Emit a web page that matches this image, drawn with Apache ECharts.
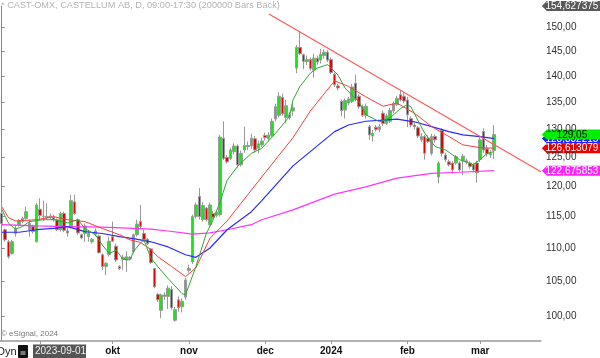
<!DOCTYPE html>
<html><head><meta charset="utf-8">
<script src="https://cdn.jsdelivr.net/npm/echarts/dist/echarts.min.js"></script>
<style>html,body{margin:0;padding:0;background:#fff}#chart{width:600px;height:358px}</style>
</head><body><div id="chart"></div>
<script>
// ---- DATA ----
const firstDate = [2023, 7, 17];
const nCategories = 156;
const holidays = ['2023-12-25', '2023-12-26', '2024-01-01'];
const monthNames = ['2024','feb','mar','apr','maj','jun','jul','aug','sep','okt','nov','dec'];
const startLabel = '2023-09-01';

const open = [115.5,112.9,111.0,109.2,112.3,113.7,114.2,114.7,112.9,113.4,
111.0,116.2,115.0,115.0,114.9,114.9,114.5,112.9,115.5,112.7,
113.3,117.4,114.5,112.1,112.3,111.8,111.0,112.2,111.9,109.0,
107.2,109.0,111.8,110.3,107.2,108.3,108.2,108.6,109.5,112.1,
114.2,112.3,111.4,109.9,106.9,103.1,100.8,103.0,102.8,103.8,
99.4,102.3,101.3,102.7,106.6,107.9,115.0,118.3,114.5,116.4,
113.7,115.5,115.2,115.3,128.4,125.0,124.8,126.0,127.0,123.7,
126.3,127.1,127.0,128.3,126.6,127.2,128.9,128.3,128.9,131.9,
132.6,136.0,132.2,132.7,133.4,141.7,145.9,144.4,143.0,143.4,
141.3,143.7,143.3,144.2,144.9,143.4,140.5,138.2,135.2,133.6,
134.9,135.2,138.7,136.2,134.2,132.6,130.5,128.8,130.4,130.0,
133.0,131.1,131.5,133.4,134.6,136.5,136.2,135.5,132.0,130.8,
130.3,128.1,128.7,128.4,125.7,128.7,121.6,129.8,125.4,124.2,
124.0,124.0,124.0,124.4,124.4,124.0,123.7,124.0,124.6,129.6,
126.5,125.4,126.2];
const close = [113.9,111.3,108.7,111.0,113.1,114.3,114.7,115.8,113.9,112.6,
116.9,115.2,115.1,114.8,115.1,114.5,112.9,115.5,112.8,112.4,
117.6,115.5,112.4,111.6,113.5,112.3,111.4,112.7,109.3,107.2,
107.7,111.1,111.1,108.2,106.9,108.6,108.7,108.4,112.1,113.8,
113.4,111.3,110.7,107.8,104.2,102.3,103.0,102.8,104.0,101.2,
100.9,101.2,102.1,105.2,106.9,115.0,116.9,115.0,116.8,114.5,
116.9,114.9,115.7,128.6,124.8,124.2,126.3,127.0,123.7,125.7,
127.1,126.9,128.4,126.3,127.4,127.9,128.5,129.0,131.5,134.2,
136.2,132.9,134.4,132.2,134.0,145.9,144.6,143.0,143.4,141.6,
143.7,142.9,144.5,144.9,143.3,140.8,138.4,137.8,133.5,135.4,
135.7,138.0,135.5,134.2,132.6,134.3,129.0,129.3,130.0,130.5,
131.1,132.5,133.5,134.8,135.8,135.5,135.3,132.7,130.8,130.5,
128.8,128.7,125.7,127.8,128.7,128.1,124.0,125.7,124.6,123.7,
122.8,125.1,122.8,125.2,124.2,123.4,122.8,122.3,128.1,126.3,
125.6,125.7,129.05];
const low = [113.7,111.0,108.4,109.0,111.8,113.4,113.9,114.5,111.8,112.3,
110.9,114.5,114.3,114.5,114.5,114.2,112.7,112.6,112.5,111.8,
113.1,115.3,112.1,111.4,111.0,111.0,110.7,111.9,109.2,106.7,
105.9,108.7,111.0,107.9,106.7,106.7,106.4,108.2,109.2,111.8,
113.1,111.0,110.5,107.6,104.0,102.0,99.7,102.3,101.0,100.9,
99.2,100.6,100.5,102.3,106.3,107.6,114.7,114.5,114.2,114.2,
113.5,114.5,114.9,115.0,124.5,123.9,124.5,125.5,123.2,123.4,
125.8,126.3,126.5,125.8,125.7,126.8,128.0,127.8,128.6,131.5,
132.2,132.5,131.2,131.8,132.5,140.7,144.3,141.5,142.3,141.2,
139.8,142.4,142.6,143.6,142.9,140.5,138.0,137.3,132.4,132.0,
134.5,134.9,135.2,133.8,132.3,132.0,128.1,127.8,129.6,129.5,
130.6,130.8,131.2,133.0,134.3,135.2,134.9,130.4,130.4,130.0,
128.4,127.7,124.6,127.5,125.3,127.6,120.5,125.1,124.2,123.4,
122.2,123.7,122.5,121.9,123.8,123.0,122.4,120.6,124.2,125.8,
125.1,124.9,124.7];
const high = [117.2,113.1,111.3,111.3,113.7,114.6,115.0,116.6,114.5,113.7,
117.2,118.0,117.6,117.2,115.5,115.3,114.7,115.8,115.8,113.1,
118.6,118.6,114.7,112.3,113.9,112.9,111.6,113.1,112.1,109.2,
107.9,111.8,114.2,110.7,107.4,109.0,109.5,108.8,112.3,114.5,
116.9,112.9,111.6,110.0,107.0,103.3,103.2,103.4,104.4,104.3,
101.3,102.8,102.5,105.5,107.5,115.3,117.3,119.7,117.4,116.6,
117.3,115.9,116.0,129.0,131.5,125.4,126.7,127.5,127.3,126.2,
130.5,127.8,129.2,128.8,128.0,128.5,129.4,129.5,132.0,134.8,
137.0,136.7,135.5,133.2,134.8,146.4,149.3,144.6,144.2,143.8,
144.6,144.2,145.6,145.5,145.3,143.8,140.8,138.6,135.6,135.8,
136.1,138.6,140.4,136.6,134.6,134.8,130.8,129.9,130.8,131.0,
133.5,132.9,134.0,135.2,136.3,137.4,136.8,136.1,132.4,131.2,
130.6,129.3,129.0,128.9,129.2,129.1,124.3,130.2,125.8,124.6,
124.3,125.4,124.3,125.6,124.8,124.3,124.0,124.4,128.6,130.2,
127.2,126.3,130.8];

// moving averages: [bar index, value]
const maFast = [[0,116.2],[2,113.9],[4,113.0],[6,113.4],[8,114.2],[12,114.5],[15,114.5],[19,114.0],[22,114.5],[24,113.1],[27,112.1],[29,110.5],[31,109.2],[33,109.7],[35,108.3],[37,108.2],[38,109.5],[40,110.8],[41,111.3],[43,108.5],[45,107.2],[48,105.4],[52,103.2],[53,103.0],[56,107.2],[59,112.3],[61,114.5],[63,117.5],[65,121.0],[68,123.4],[72,125.7],[75,126.6],[79,129.3],[83,132.4],[84,135.5],[86,138.1],[89,140.7],[91,141.7],[94,142.4],[97,140.3],[99,137.8],[101,136.4],[103,135.2],[105,132.7],[109,131.4],[112,132.1],[115,133.9],[117,134.6],[118,134.2],[120,131.7],[122,129.3],[125,126.9],[128,126.3],[132,124.6],[136,123.7],[138,124.6],[140,125.7],[142,126.0]];
const maMid = [[0,116.6],[2,114.8],[4,114.3],[10,114.5],[15,115.0],[19,114.5],[24,114.2],[29,113.1],[34,112.1],[37,111.3],[40,110.9],[43,109.8],[45,108.7],[49,107.2],[53,105.7],[56,107.0],[60,111.5],[65,114.3],[75,121.6],[84,128.5],[89,133.4],[96,139.2],[100,138.1],[105,136.1],[110,134.3],[114,134.9],[119,133.0],[124,130.5],[129,128.7],[133,127.2],[138,126.7],[142,126.613079]];
const maSlow = [[0,112.5],[5,112.5],[10,112.9],[15,113.1],[19,113.4],[24,112.6],[29,112.3],[34,111.8],[38,111.5],[43,111.0],[48,110.2],[53,109.0],[56,108.6],[60,110.0],[65,112.9],[72,115.8],[75,117.6],[84,123.5],[96,129.6],[100,130.8],[105,131.5],[110,131.7],[114,131.9],[119,131.4],[124,130.5],[129,129.6],[133,129.0],[138,128.7],[142,128.332215]];
const ma200 = [[0,113.7],[10,113.5],[19,113.4],[29,113.3],[38,113.1],[43,113.0],[48,112.7],[55,112.2],[60,112.4],[65,112.9],[72,113.7],[75,114.5],[84,116.1],[96,118.7],[105,119.9],[114,121.4],[124,122.2],[132,122.4],[142,122.675853]];
const trendLine = [[77.07,152.9],[155.5,122.5]];

const yTicks = [100,105,110,115,120,125,130,135,140,145,150];
const yMin = 96.55, yMax = 154.627375;

// ---- BUILD ----
const dates = [];
let t = Date.UTC(firstDate[0], firstDate[1], firstDate[2]);
while (dates.length < nCategories) {
  const d = new Date(t);
  const s = d.toISOString().slice(0, 10);
  const wd = d.getUTCDay();
  if (wd !== 0 && wd !== 6 && holidays.indexOf(s) < 0) dates.push(s);
  t += 86400000;
}
const monthStart = {};
for (let i = 1; i < dates.length; i++) {
  if (dates[i].slice(5, 7) !== dates[i - 1].slice(5, 7)) monthStart[i] = +dates[i].slice(5, 7) - 1;
}
const fmt = (v, n) => v.toFixed(n).replace('.', ',');
const candles = open.map((o, i) => [o, close[i], low[i], high[i]]);
const lastClose = close[close.length - 1];
const last = (a) => a[a.length - 1][1];

const chart = echarts.init(document.getElementById('chart'));
const staticGraphics = [
  { type: 'text', left: 1, top: 1, style: { text: '* CAST-OMX, CASTELLUM AB, D, 09:00-17:30 (200000 Bars Back)', fontSize: 9.2, fill: '#b4b4b4', fontFamily: 'Liberation Sans' } },
  { type: 'text', left: 1, top: 330, style: { text: '© eSignal, 2024', fontSize: 8, fill: '#777', fontFamily: 'Liberation Sans' } },
  { type: 'text', left: -3, top: 346, style: { text: 'Dyn', fontSize: 11, fill: '#222', fontFamily: 'Liberation Sans' } },
  { type: 'rect', shape: { x: 18, y: 345, width: 10, height: 13, r: 1 }, style: { fill: '#111' } },
  { type: 'rect', shape: { x: 20.5, y: 351, width: 5, height: 4 }, style: { fill: '#777' } },
  { type: 'rect', shape: { x: 33, y: 344.5, width: 53, height: 13.5 }, style: { fill: '#555' } },
  { type: 'text', left: 35, top: 346.5, style: { text: startLabel, fontSize: 10, fill: '#eee', fontFamily: 'Liberation Sans' } }
];
chart.setOption({
  animation: false,
  textStyle: { fontFamily: 'Liberation Sans, Arial, sans-serif' },
  grid: { left: -1.94, right: 59.1, top: 6, bottom: 17 },
  xAxis: [{
    type: 'category', data: dates, boundaryGap: true,
    axisLine: { show: true, lineStyle: { color: '#999', width: 1.5 } },
    axisTick: { show: true, alignWithLabel: true, length: 3, lineStyle: { color: '#999' },
      interval: (i) => monthStart[i] !== undefined },
    axisLabel: { interval: (i) => monthStart[i] !== undefined && monthStart[i] !== 8,
      formatter: (v) => monthNames[+v.slice(5, 7) - 1],
      color: '#111', fontWeight: 'bold', fontSize: 10, margin: 5 },
    splitLine: { show: false }
  }, {
    type: 'value', min: -0.5, max: 155.5, show: false
  }],
  yAxis: {
    type: 'log', logBase: 10, position: 'right', min: yMin, max: yMax,
    axisLine: { show: true, lineStyle: { color: '#888' } },
    axisTick: { show: true, length: 3, customValues: yTicks, lineStyle: { color: '#888' } },
    axisLabel: { customValues: yTicks, formatter: (v) => fmt(v, 2), color: '#333', fontSize: 10, margin: 5 },
    splitLine: { show: false }
  },
  series: [
    { type: 'candlestick', data: candles, barWidth: 3,
      itemStyle: { color: '#19e619', color0: '#e60000', borderColor: '#9a9a9a', borderColor0: '#9a9a9a', borderWidth: 1 } },
    { type: 'line', data: ma200, showSymbol: false, lineStyle: { color: '#ff33ff', width: 1.2 }, itemStyle: { color: '#ff33ff' } },
    { type: 'line', data: maSlow, showSymbol: false, lineStyle: { color: '#2b2bff', width: 1.2 }, itemStyle: { color: '#2b2bff' } },
    { type: 'line', data: maMid, showSymbol: false, lineStyle: { color: '#ff3b3b', width: 1 }, itemStyle: { color: '#ff3b3b' } },
    { type: 'line', data: maFast, showSymbol: false, lineStyle: { color: '#2ea82e', width: 1 }, itemStyle: { color: '#2ea82e' } },
    { type: 'line', xAxisIndex: 1, data: trendLine, showSymbol: false, lineStyle: { color: '#ff5a5a', width: 1.2 }, itemStyle: { color: '#ff5a5a' } }
  ],
  graphic: staticGraphics
});

// value badges on the price axis, positioned through the chart's own y scale
const axisX = chart.convertToPixel({ xAxisIndex: 1 }, 155.5);
const badges = [
  [yMax, fmt(yMax, 6), '#5a5a5a', '#fff'],
  [last(ma200), fmt(last(ma200), 6), '#ff22ff', '#fff'],
  [last(maSlow), fmt(last(maSlow), 6), '#2020ff', '#fff'],
  [lastClose, fmt(lastClose, 2), '#00ee00', '#000'],
  [last(maMid), fmt(last(maMid), 6), '#ee0000', '#fff']
];
const badgeGraphics = badges.map((b) => {
  const y = chart.convertToPixel({ yAxisIndex: 0 }, b[0]);
  return { type: 'group', x: axisX + 1, y: y, children: [
    { type: 'polygon', shape: { points: [[0, 0], [5, -5], [64, -5], [64, 5], [5, 5]] }, style: { fill: b[2] } },
    { type: 'text', x: 30, y: 0.5, style: { text: b[1], fill: b[3], fontSize: 10, fontFamily: 'Liberation Sans', align: 'center', verticalAlign: 'middle' } }
  ] };
});
chart.setOption({ graphic: staticGraphics.concat(badgeGraphics) });
</script></body></html>
